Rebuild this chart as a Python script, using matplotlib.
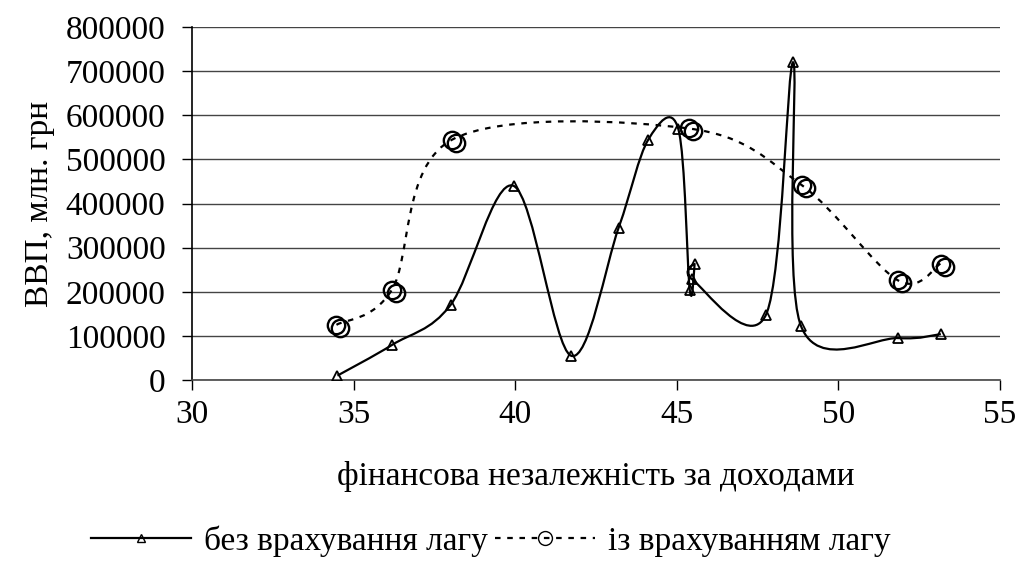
import matplotlib
matplotlib.use('Agg')
import matplotlib.pyplot as plt
from matplotlib.path import Path
from matplotlib.patches import PathPatch
from matplotlib.lines import Line2D
from matplotlib.transforms import ScaledTranslation
import numpy as np

# без врахування лагу
x_nolag = [34.5, 36.2, 38.0, 39.95, 41.73, 43.2, 44.12, 45.05, 45.4, 45.55, 45.48, 47.76, 48.6, 48.84, 51.86, 53.17]
y_nolag = [10000, 80000, 170000, 440000, 55000, 345000, 545000, 568000, 205000, 262000, 228000, 148000, 720000, 123000, 95000, 104000]

# із врахуванням лагу
x_lag = [34.47, 36.18, 38.03, 45.37, 48.86, 51.84, 53.17]
y_lag = [125000, 204000, 544000, 570000, 442000, 226000, 264000]

label_nolag = 'без врахування лагу'
label_lag = 'із врахуванням лагу'
xlabel = 'фінансова незалежність за доходами'
ylabel = 'ВВП, млн. грн'

plt.rcParams['font.family'] = ['Liberation Serif', 'DejaVu Serif']
FS = 24


def smooth_path(xs, ys):
    # Catmull-Rom style smoothing (like Excel's smoothed scatter), drawn as Bezier curves
    p = np.column_stack([xs, ys]).astype(float)
    n = len(p)
    verts = [p[0]]
    codes = [Path.MOVETO]
    for i in range(n - 1):
        p0 = p[i - 1] if i > 0 else p[i]
        p3 = p[i + 2] if i + 2 < n else p[i + 1]
        c1 = p[i] + (p[i + 1] - p0) / 6
        c2 = p[i + 1] - (p3 - p[i]) / 6
        verts += [c1, c2, p[i + 1]]
        codes += [Path.CURVE4] * 3
    return Path(verts, codes)


fig = plt.figure(figsize=(10.18, 5.73), dpi=100)
ax = fig.add_axes([0.1886, 0.3368, 0.7937, 0.6161])

ax.add_patch(PathPatch(smooth_path(x_nolag, y_nolag), fill=False,
                       edgecolor='black', lw=1.6, zorder=3))
ax.add_patch(PathPatch(smooth_path(x_lag, y_lag), fill=False,
                       edgecolor='black', lw=1.6, linestyle=(0, (2.5, 3)), zorder=3))

ax.plot(x_nolag, y_nolag, ls='none', marker='^', ms=7, mfc='none',
        mec='black', mew=1.3, zorder=4)
# circles look doubled in the original print
ax.plot(x_lag, y_lag, ls='none', marker='o', ms=12.5, mfc='none',
        mec='black', mew=1.7, zorder=4)
shift = ScaledTranslation(4 / 100, -3 / 100, fig.dpi_scale_trans)
ax.plot(x_lag, y_lag, ls='none', marker='o', ms=12.5, mfc='none',
        mec='black', mew=1.7, zorder=4, transform=ax.transData + shift)

ax.set_xlim(30, 55)
ax.set_ylim(0, 800000)
ax.set_xticks(range(30, 56, 5))
ax.set_yticks(range(0, 800001, 100000))
ax.grid(axis='y', color='#444444', lw=1.0)
ax.set_axisbelow(True)
for s in ['top', 'right']:
    ax.spines[s].set_visible(False)
ax.spines['left'].set_linewidth(1.2)
ax.spines['bottom'].set_linewidth(1.2)
ax.spines['bottom'].set_color('#444444')
ax.tick_params(axis='y', direction='out', length=7, width=1, pad=12, labelsize=FS)
ax.tick_params(axis='x', direction='out', length=7, width=1, pad=7, labelsize=FS)

ax.set_xlabel(xlabel, fontsize=FS, labelpad=22)
ax.set_ylabel(ylabel, fontsize=FS, labelpad=8)

h1 = Line2D([], [], color='black', lw=1.6, marker='^', ms=6, mfc='none', mec='black')
h2 = Line2D([], [], color='black', lw=1.6, linestyle=(0, (2.5, 3)), marker='o', ms=10,
            mfc='none', mec='black')
fig.legend([h1, h2], [label_nolag, label_lag], loc='center', bbox_to_anchor=(0.482, 0.056),
           ncol=2, frameon=False, fontsize=FS, handlelength=3.0, handletextpad=0.4,
           columnspacing=0.2)

fig.savefig('out.png', dpi=100)
